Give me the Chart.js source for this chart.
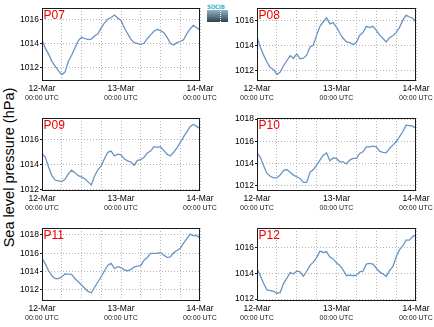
<!DOCTYPE html>
<html>
<head>
<meta charset="utf-8">
<script src="https://cdn.jsdelivr.net/npm/chart.js@4"></script>
<style>
  body { margin: 0; background: #fff; }
  #wrap { position: relative; width: 434px; height: 327px; overflow: hidden; font-family: "Liberation Sans", Arial, sans-serif; }
  #wrap canvas { position: absolute; }
  #ytitle { position: absolute; left: -91px; top: 159px; width: 200px; height: 17px; line-height: 17px;
            text-align: center; font-size: 14.5px; color: #000; transform: rotate(-90deg); white-space: nowrap; }
  #logo { position: absolute; left: 207px; top: 3px; width: 21px; }
  #logo .txt { font: bold 6px/7px "DejaVu Sans Condensed", sans-serif; color: #3cb6cf; letter-spacing: -0.2px; }
  #logo .box { position: relative; height: 12px; background: linear-gradient(#92b4c4, #2e414e); }
  #logo .box i { position: absolute; left: 13px; top: 1px; height: 11px; border-left: 1px dotted #fff; }
</style>
</head>
<body>
<div id="wrap">
  <div id="ytitle">Sea level pressure (hPa)</div>
  <div id="logo"><div class="txt">SOCIB</div><div class="box"><i></i></div></div>
</div>
<script>
// hours since 12-Mar 00:00 UTC
const hours = [0,1,2,3,4,5,6,7,8,9,10,11,12,13,14,15,16,17,18,19,20,21,22,23,24,
               25,26,27,28,29,30,31,32,33,34,35,36,37,38,39,40,41,42,43,44,45,46,47,48];
const hourTicks = [0, 6, 12, 18, 24, 30, 36, 42, 48];
const dayHours = [0, 24, 48];
const dayLabels = ['12-Mar', '13-Mar', '14-Mar'];
const timeLabel = '00:00 UTC';

const stations = ['P07', 'P08', 'P09', 'P10', 'P11', 'P12'];

// sea level pressure (hPa), hourly
const p07 = [1014.3,1013.6,1013.1,1012.5,1012.1,1011.7,1011.4,1011.6,1012.5,1013.0,1013.6,1014.2,1014.5,
             1014.4,1014.3,1014.35,1014.6,1014.8,1015.3,1015.7,1016.0,1016.15,1016.35,1016.1,1015.9,
             1015.3,1014.8,1014.35,1014.05,1014.0,1013.9,1014.0,1014.4,1014.7,1015.0,1015.15,1015.05,
             1014.9,1014.5,1014.0,1013.85,1014.05,1014.15,1014.3,1014.8,1015.2,1015.5,1015.3,1015.1];
const p08 = [1014.7,1013.9,1013.25,1012.7,1012.25,1012.1,1011.7,1011.9,1012.4,1012.8,1013.2,1013.0,1013.35,
             1012.95,1013.0,1013.25,1013.9,1014.05,1014.85,1015.55,1015.9,1016.25,1015.75,1015.85,1015.5,
             1015.0,1014.6,1014.3,1014.25,1014.1,1014.25,1014.85,1015.05,1015.55,1015.45,1015.55,1015.25,
             1014.85,1014.6,1014.3,1014.65,1014.8,1015.05,1015.45,1016.05,1016.45,1016.3,1016.2,1015.9];
const p09 = [1014.9,1014.6,1013.8,1013.1,1012.75,1012.68,1012.62,1012.8,1013.25,1013.55,1013.35,1013.1,1013.0,
             1012.85,1012.6,1012.35,1013.1,1013.6,1013.9,1014.5,1015.0,1015.1,1014.7,1014.85,1014.8,
             1014.45,1014.3,1014.2,1013.95,1014.35,1014.4,1014.6,1014.95,1015.1,1015.45,1015.4,1015.45,
             1015.15,1014.85,1014.7,1015.0,1015.35,1015.8,1016.25,1016.65,1017.1,1017.25,1017.1,1016.9];
const p10 = [1014.95,1014.55,1013.8,1013.1,1012.85,1012.7,1012.72,1012.95,1013.35,1013.45,1013.2,1012.95,1012.8,
             1012.65,1012.3,1012.3,1013.2,1013.45,1013.85,1014.3,1014.75,1014.95,1014.25,1014.5,1014.45,
             1014.15,1014.15,1013.95,1014.3,1014.45,1014.45,1014.9,1015.05,1015.5,1015.5,1015.55,1015.5,
             1015.1,1015.0,1014.95,1015.35,1015.65,1015.95,1016.4,1016.85,1017.45,1017.4,1017.35,1017.15];
const p11 = [1015.45,1014.85,1014.1,1013.55,1013.25,1013.25,1013.45,1013.75,1013.72,1013.7,1013.25,1012.9,1012.55,
             1012.2,1011.85,1011.7,1012.3,1012.9,1013.45,1014.1,1014.7,1014.9,1014.35,1014.55,1014.45,
             1014.2,1014.1,1014.25,1014.5,1014.6,1014.65,1015.25,1015.55,1016.0,1016.0,1016.0,1016.1,
             1015.8,1015.55,1015.6,1016.05,1016.3,1016.55,1017.1,1017.6,1018.1,1017.9,1017.95,1017.65];
const p12 = [1014.35,1013.8,1013.2,1012.7,1012.65,1012.6,1012.45,1012.5,1013.2,1013.6,1014.05,1013.95,1014.15,
             1014.1,1013.75,1014.15,1014.6,1014.85,1015.2,1015.7,1015.6,1015.65,1015.25,1015.1,1014.8,
             1014.6,1014.25,1013.8,1013.85,1013.8,1013.85,1014.1,1014.15,1014.7,1014.75,1014.7,1014.4,
             1014.1,1013.95,1013.75,1014.2,1014.5,1015.25,1015.8,1016.1,1016.55,1016.55,1016.85,1016.95];
const series = [p07, p08, p09, p10, p11, p12];

// y axis ranges and ticks per panel
const yMins = [1010.86, 1011.18, 1011.86, 1011.52, 1010.8, 1011.85];
const yMaxs = [1016.94, 1017.02, 1017.78, 1018.09, 1018.76, 1017.49];
const yTicks = [
    [1012, 1014, 1016],
    [1012, 1014, 1016],
    [1012, 1014, 1016],
    [1012, 1014, 1016, 1018],
    [1012, 1014, 1016, 1018],
    [1012, 1014, 1016]
];

Chart.defaults.font.family = '"Liberation Sans", Arial, sans-serif';
Chart.defaults.color = '#000';

// frame around the plot and the station name in red
const framePlugin = {
    id: 'frame',
    afterDraw(chart, args, opts) {
        const { ctx, chartArea: a } = chart;
        ctx.save();
        ctx.strokeStyle = '#1a1a1a';
        ctx.lineWidth = 1;
        ctx.strokeRect(Math.round(a.left) + 0.5, Math.round(a.top) + 0.5,
                       Math.round(a.right) - Math.round(a.left) - 1, Math.round(a.bottom) - Math.round(a.top) - 1);
        ctx.fillStyle = '#ee0000';
        ctx.font = '12px "Liberation Sans", Arial, sans-serif';
        ctx.textBaseline = 'top';
        ctx.fillText(opts.name, a.left + 1.5, a.top + 1.5);
        ctx.restore();
    }
};

const wrap = document.getElementById('wrap');
const rowTops = [0, 110, 220];
const rowHeights = [110, 110, 107];
const plotBottom = 81; // chart area bottom inside each canvas
const dayTickLabel = (v) => { const i = dayHours.indexOf(v); return i >= 0 ? dayLabels[i] : ''; };
const setTicks = (vals) => (scale) => { scale.ticks = vals.map(v => ({ value: v })); };

stations.forEach((name, i) => {
    const col = i % 2, row = Math.floor(i / 2);
    const h = rowHeights[row];
    const cv = document.createElement('canvas');
    cv.width = 217; cv.height = h;
    cv.style.left = (col * 217) + 'px';
    cv.style.top = rowTops[row] + 'px';
    cv.style.width = '217px'; cv.style.height = h + 'px';
    wrap.appendChild(cv);

    const yWidth = col ? 40 : 42;

    new Chart(cv.getContext('2d'), {
        type: 'line',
        data: {
            datasets: [{
                data: hours.map((hr, k) => ({ x: hr, y: series[i][k] })),
                borderColor: '#6894c2',
                borderWidth: 1.3,
                pointRadius: 0,
                tension: 0,
                fill: false
            }]
        },
        options: {
            responsive: false,
            animation: false,
            devicePixelRatio: 1,
            layout: { padding: { left: 0, top: 8, right: col ? 18 : 17, bottom: 0 } },
            plugins: {
                legend: { display: false },
                tooltip: { enabled: false },
                frame: { name: name }
            },
            scales: {
                x: {
                    type: 'linear', position: 'bottom', weight: 0,
                    min: 0, max: 48,
                    afterBuildTicks: setTicks(hourTicks),
                    afterFit: (s) => { s.height = 12; s.paddingLeft = 0; s.paddingRight = 0; },
                    grid: { color: '#b4b4b4', lineWidth: 1, drawTicks: false },
                    border: { display: false, dash: [1, 2] },
                    ticks: { autoSkip: false, maxRotation: 0, padding: 3, font: { size: 8.5 }, callback: dayTickLabel }
                },
                x2: {
                    type: 'linear', position: 'bottom', weight: 1,
                    min: 0, max: 48,
                    afterBuildTicks: setTicks(dayHours),
                    afterFit: (s) => { s.height = h - plotBottom - 12; s.paddingLeft = 0; s.paddingRight = 0; },
                    grid: { display: false, drawTicks: false },
                    border: { display: false },
                    ticks: { autoSkip: false, maxRotation: 0, padding: 1, color: '#222', font: { size: 7 }, callback: () => timeLabel }
                },
                y: {
                    type: 'linear',
                    min: yMins[i], max: yMaxs[i],
                    afterBuildTicks: setTicks(yTicks[i]),
                    afterFit: (s) => { s.width = yWidth; s.paddingTop = 0; s.paddingBottom = 0; },
                    grid: { color: '#b4b4b4', lineWidth: 1, drawTicks: true, tickLength: 2,
                            tickColor: '#1a1a1a', tickWidth: 1, tickBorderDash: [] },
                    border: { display: false, dash: [1, 2] },
                    ticks: { padding: 1, font: { size: 8.5 }, callback: (v) => String(v) }
                }
            }
        },
        plugins: [framePlugin]
    });
});
</script>
</body>
</html>
